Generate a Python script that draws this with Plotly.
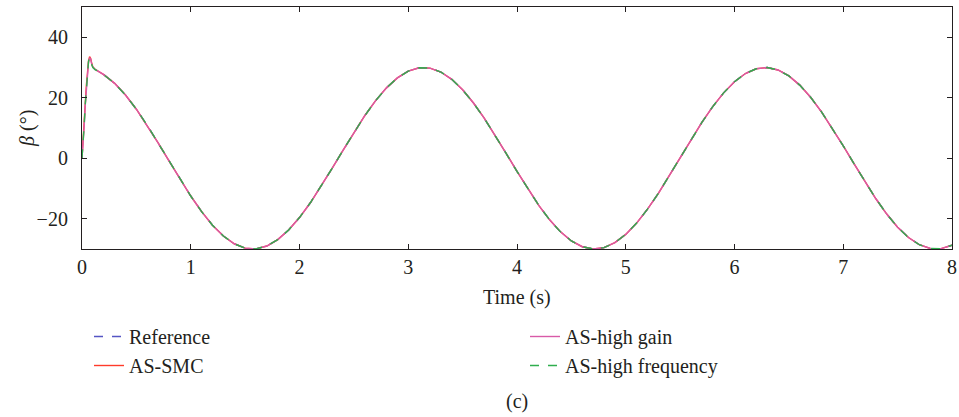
import plotly.graph_objects as go

# ---- data ----
# steady tracking part, sampled every 0.1 s (t = 0.0 ... 8.0)
time_s = [0.0, 0.1, 0.2, 0.3, 0.4, 0.5, 0.6, 0.7, 0.8, 0.9,
          1.0, 1.1, 1.2, 1.3, 1.4, 1.5, 1.6, 1.7, 1.8, 1.9,
          2.0, 2.1, 2.2, 2.3, 2.4, 2.5, 2.6, 2.7, 2.8, 2.9,
          3.0, 3.1, 3.2, 3.3, 3.4, 3.5, 3.6, 3.7, 3.8, 3.9,
          4.0, 4.1, 4.2, 4.3, 4.4, 4.5, 4.6, 4.7, 4.8, 4.9,
          5.0, 5.1, 5.2, 5.3, 5.4, 5.5, 5.6, 5.7, 5.8, 5.9,
          6.0, 6.1, 6.2, 6.3, 6.4, 6.5, 6.6, 6.7, 6.8, 6.9,
          7.0, 7.1, 7.2, 7.3, 7.4, 7.5, 7.6, 7.7, 7.8, 7.9, 8.0]
beta_ref = [30.00, 29.40, 27.63, 24.76, 20.90, 16.21, 10.87, 5.10, -0.88, -6.82,
            -12.48, -17.66, -22.12, -25.71, -28.27, -29.70, -29.95, -29.00, -26.90, -23.73,
            -19.61, -14.71, -9.22, -3.36, 2.63, 8.51, 14.06, 19.04, 23.27, 26.57,
            28.81, 29.90, 29.80, 28.51, 26.08, 22.62, 18.25, 13.16, 7.54, 1.62,
            -4.36, -10.17, -15.58, -20.36, -24.33, -27.33, -29.25, -29.99, -29.54, -27.91,
            -25.17, -21.43, -16.83, -11.59, -5.83, 0.13, 6.09, 11.84, 17.07, 21.62,
            25.32, 28.01, 29.59, 29.98, 29.18, 27.23, 24.18, 20.17, 15.36, 9.93,
            4.10, -1.88, -7.79, -13.39, -18.45, -22.79, -26.22, -28.59, -29.83, -29.87, -28.73]

# start-up transient of the controlled responses (t = 0 ... 0.15 s)
start_t = [0.0, 0.01, 0.02, 0.03, 0.04, 0.05, 0.06, 0.07, 0.08, 0.09, 0.10, 0.12, 0.15]
smc_start = [0.0, 5.0, 11.0, 18.0, 24.0, 29.0, 32.2, 33.6, 33.0, 31.3, 30.2, 29.4, 28.8]
gain_start = [0.0, 4.5, 10.5, 17.5, 23.5, 28.5, 31.8, 33.2, 32.8, 31.0, 30.1, 29.4, 28.8]
freq_start = [0.0, 4.8, 10.8, 17.8, 23.8, 28.8, 32.0, 33.3, 32.6, 30.9, 30.0, 29.3, 28.8]

names = ["Reference", "AS-SMC", "AS-high gain", "AS-high frequency"]
colors = ["#5555c4", "#ff3b2a", "#d85aa8", "#2fae4e"]
dashes = ["dash", "solid", "solid", "dash"]
legend_ids = ["legend", "legend", "legend2", "legend2"]

x_ticks = [0, 1, 2, 3, 4, 5, 6, 7, 8]
y_ticks = [-20, 0, 20, 40]

FONT = "'Liberation Serif', 'Times New Roman', serif"
FS = 20
AX = "#231f20"

series_t = [time_s[2:],
            start_t + time_s[2:],
            start_t + time_s[2:],
            start_t + time_s[2:]]
series_v = [beta_ref[2:],
            smc_start + beta_ref[2:],
            gain_start + beta_ref[2:],
            freq_start + beta_ref[2:]]

fig = go.Figure()
for i in range(4):
    fig.add_trace(go.Scatter(
        x=series_t[i], y=series_v[i], mode="lines", name=names[i],
        line=dict(color=colors[i], width=1.4, dash=dashes[i]),
        legend=legend_ids[i]))

legend_common = dict(xref="container", yref="container",
                     xanchor="left", yanchor="top", bgcolor="rgba(0,0,0,0)",
                     font=dict(family=FONT, size=FS, color="#231f20"),
                     tracegroupgap=0)

fig.update_layout(
    width=959, height=417,
    margin=dict(l=82, r=7, t=7, b=168, autoexpand=False),
    paper_bgcolor="white", plot_bgcolor="white",
    font=dict(family=FONT, size=FS, color="#231f20"),
    showlegend=True,
    legend=dict(x=89 / 959, y=1 - 317 / 417, **legend_common),
    legend2=dict(x=525 / 959, y=1 - 317 / 417, **legend_common),
    annotations=[
        dict(text="Time (s)", x=0.5, xref="paper", xanchor="center",
             y=(249 - 297) / 242, yref="paper", yanchor="middle",
             showarrow=False, font=dict(family=FONT, size=FS)),
        dict(text="<i>β</i> (°)", x=(27 - 82) / 870, xref="paper", xanchor="center",
             y=0.5, yref="paper", yanchor="middle", textangle=-90,
             showarrow=False, font=dict(family=FONT, size=FS)),
        dict(text="(c)", x=0.5, xref="paper", xanchor="center",
             y=(249 - 401) / 242, yref="paper", yanchor="middle",
             showarrow=False, font=dict(family=FONT, size=FS)),
    ],
)
fig.update_xaxes(range=[0, 8], tickvals=x_ticks, ticks="inside", ticklen=5,
                 showline=True, linecolor=AX, linewidth=1.2, mirror="ticks",
                 tickcolor=AX, showgrid=False, zeroline=False,
                 ticklabelstandoff=0, automargin=False,
                 tickfont=dict(family=FONT, size=FS))
fig.update_yaxes(range=[-30, 50], tickvals=y_ticks, ticks="inside", ticklen=5,
                 showline=True, linecolor=AX, linewidth=1.2, mirror="ticks",
                 tickcolor=AX, showgrid=False, zeroline=False,
                 ticklabelstandoff=9, automargin=False,
                 tickfont=dict(family=FONT, size=FS))

fig.write_html("out.html")
